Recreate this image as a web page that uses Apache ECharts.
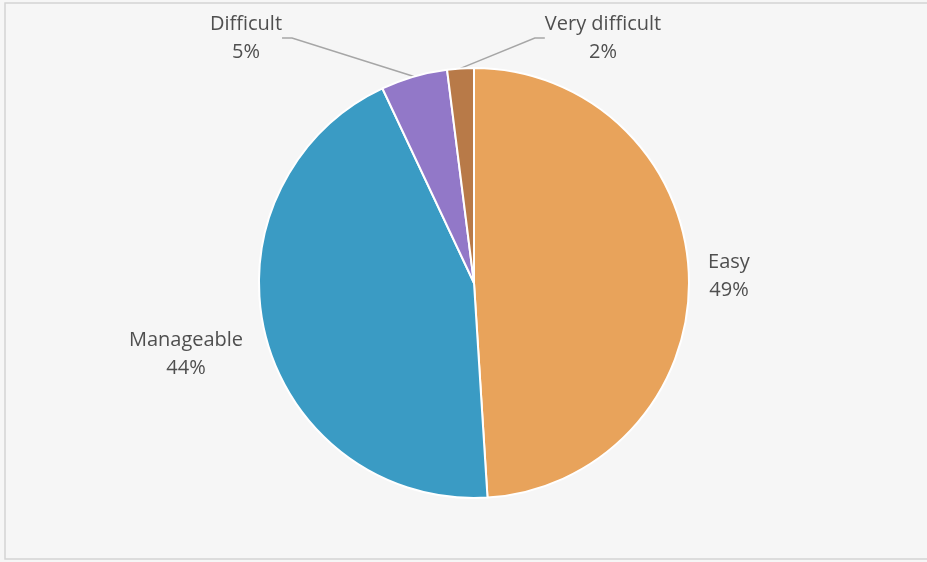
<!DOCTYPE html>
<html><head><meta charset="utf-8">
<script src="https://cdn.jsdelivr.net/npm/echarts@6/dist/echarts.min.js"></script>
<style>html,body{margin:0;padding:0;background:#f6f6f6;}#c{width:927px;height:562px;}</style>
</head><body><div id="c"></div>
<script>
const categories = ['Easy', 'Manageable', 'Difficult', 'Very difficult'];
const values = [49, 44, 5, 2];
const colors = ['#E8A35B', '#3A9BC4', '#9278C8', '#B87A48'];
const labelPos = {
  'Easy': [729, 276],
  'Manageable': [186, 354],
  'Difficult': [246, 38],
  'Very difficult': [603, 38]
};
const chart = echarts.init(document.getElementById('c'));
chart.setOption({
  backgroundColor: '#f6f6f6',
  animation: false,
  graphic: [{type: 'rect', shape: {x: 5, y: 3, width: 940, height: 556}, style: {fill: 'none', stroke: '#d4d4d4', lineWidth: 1.5}, silent: true}],
  series: [{
    type: 'pie',
    center: [474, 283],
    radius: 215,
    startAngle: 90,
    clockwise: true,
    data: categories.map((c, i) => ({
      name: c, value: values[i],
      itemStyle: {color: colors[i]},
      labelLine: {show: i >= 2, lineStyle: {color: '#a6a6a6', width: 1.5}, length: 20, length2: 10, smooth: false}
    })),
    itemStyle: {borderColor: '#ffffff', borderWidth: 2},
    label: {
      position: 'outside',
      formatter: p => p.name + '\n' + p.value + '%',
      color: '#4f4f4f',
      fontFamily: 'Open Sans',
      fontSize: 20,
      lineHeight: 28,
      align: 'center'
    },
    labelLayout: p => {
      const pos = labelPos[categories[p.dataIndex]];
      return {x: pos[0], y: pos[1], align: 'center', verticalAlign: 'middle'};
    }
  }]
});
</script></body></html>
